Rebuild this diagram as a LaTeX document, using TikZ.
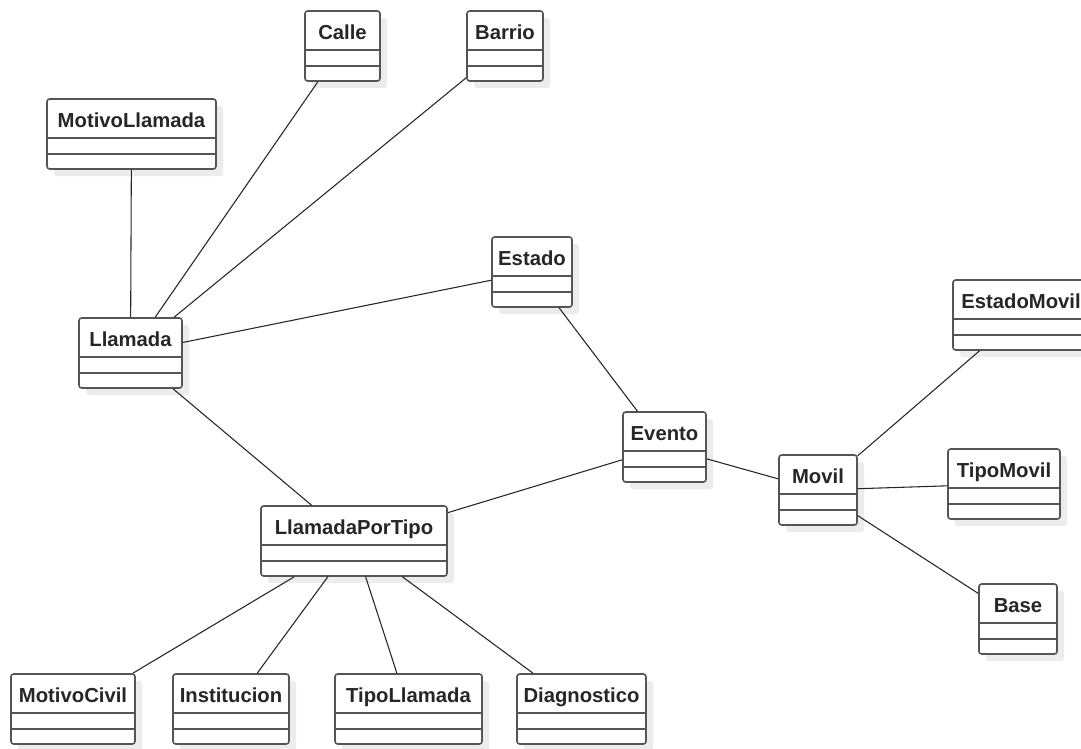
\documentclass[tikz,border=0pt]{standalone}
\usepackage{fontspec}
\setmainfont{Liberation Sans}
\usetikzlibrary{calc}
\definecolor{boxline}{RGB}{85,85,85}
\definecolor{shadowgray}{RGB}{236,236,236}

\begin{document}
\begin{tikzpicture}[x=0.75pt,y=0.75pt,yscale=-1,xscale=1,
  compline/.style={draw=boxline, line width=1.2pt},
  classbox/.style={draw=boxline, line width=1.2pt, fill=white, rounded corners=2pt, inner sep=0pt, minimum height=52.5pt,
    preaction={fill=shadowgray, transform canvas={shift={(7,-7)}}},
    path picture={
      \draw[compline] ($(path picture bounding box.north west)!0.557!(path picture bounding box.south west)$) -- ($(path picture bounding box.north east)!0.557!(path picture bounding box.south east)$);
      \draw[compline] ($(path picture bounding box.north west)!0.786!(path picture bounding box.south west)$) -- ($(path picture bounding box.north east)!0.786!(path picture bounding box.south east)$);
    }},
  classname/.style={anchor=base, inner sep=0pt, font=\fontsize{15.2pt}{17pt}\selectfont\bfseries, text=black!85},
  assoc/.style={draw=black!85, line width=0.8pt}]
\path[use as bounding box, fill=white] (0,0) rectangle (1081,749);

%Shape: Class [Calle]
\node[classbox, minimum width=56.25pt] (calle) at (342.5,46) {};
%Shape: Class [Barrio]
\node[classbox, minimum width=57pt] (barrio) at (505,46) {};
%Shape: Class [MotivoLlamada]
\node[classbox, minimum width=126.75pt] (motivollamada) at (131.5,134) {};
%Shape: Class [Llamada]
\node[classbox, minimum width=77.25pt] (llamada) at (130.5,353) {};
%Shape: Class [Estado]
\node[classbox, minimum width=60pt] (estado) at (532,272) {};
%Shape: Class [Evento]
\node[classbox, minimum width=62.25pt] (evento) at (664.5,447) {};
%Shape: Class [Movil]
\node[classbox, minimum width=58.5pt] (movil) at (818,490) {};
%Shape: Class [EstadoMovil]
\node[classbox, minimum width=102pt] (estadomovil) at (1021,315) {};
%Shape: Class [TipoMovil]
\node[classbox, minimum width=84pt] (tipomovil) at (1004,484) {};
%Shape: Class [Base]
\node[classbox, minimum width=58.5pt] (base) at (1018,619) {};
%Shape: Class [LlamadaPorTipo]
\node[classbox, minimum width=139.5pt] (llamadaportipo) at (354,541) {};
%Shape: Class [MotivoCivil]
\node[classbox, minimum width=93pt] (motivocivil) at (73,709) {};
%Shape: Class [Institucion]
\node[classbox, minimum width=87pt] (institucion) at (231,709) {};
%Shape: Class [TipoLlamada]
\node[classbox, minimum width=110.25pt] (tipollamada) at (408.5,709) {};
%Shape: Class [Diagnostico]
\node[classbox, minimum width=96.75pt] (diagnostico) at (581.5,709) {};

%Straight Lines
\draw[assoc] (llamada) -- (motivollamada);
\draw[assoc] (llamada) -- (calle);
\draw[assoc] (llamada) -- (barrio);
\draw[assoc] (llamada) -- (estado);
\draw[assoc] (llamada) -- (llamadaportipo);
\draw[assoc] (estado) -- (evento);
\draw[assoc] (evento) -- (llamadaportipo);
\draw[assoc] (evento) -- (movil);
\draw[assoc] (movil) -- (estadomovil);
\draw[assoc] (movil) -- (tipomovil);
\draw[assoc] (movil) -- (base);
\draw[assoc] (llamadaportipo) -- (motivocivil);
\draw[assoc] (llamadaportipo) -- (institucion);
\draw[assoc] (llamadaportipo) -- (tipollamada);
\draw[assoc] (llamadaportipo) -- (diagnostico);

% Text Node
\node[classname] (calle-name) at ($(calle.north)!0.414!(calle.south)$) {Calle};
% Text Node
\node[classname] (barrio-name) at ($(barrio.north)!0.414!(barrio.south)$) {Barrio};
% Text Node
\node[classname] (motivollamada-name) at ($(motivollamada.north)!0.414!(motivollamada.south)$) {MotivoLlamada};
% Text Node
\node[classname] (llamada-name) at ($(llamada.north)!0.414!(llamada.south)$) {Llamada};
% Text Node
\node[classname] (estado-name) at ($(estado.north)!0.414!(estado.south)$) {Estado};
% Text Node
\node[classname] (evento-name) at ($(evento.north)!0.414!(evento.south)$) {Evento};
% Text Node
\node[classname] (movil-name) at ($(movil.north)!0.414!(movil.south)$) {Movil};
% Text Node
\node[classname] (estadomovil-name) at ($(estadomovil.north)!0.414!(estadomovil.south)$) {EstadoMovil};
% Text Node
\node[classname] (tipomovil-name) at ($(tipomovil.north)!0.414!(tipomovil.south)$) {TipoMovil};
% Text Node
\node[classname] (base-name) at ($(base.north)!0.414!(base.south)$) {Base};
% Text Node
\node[classname] (llamadaportipo-name) at ($(llamadaportipo.north)!0.414!(llamadaportipo.south)$) {LlamadaPorTipo};
% Text Node
\node[classname] (motivocivil-name) at ($(motivocivil.north)!0.414!(motivocivil.south)$) {MotivoCivil};
% Text Node
\node[classname] (institucion-name) at ($(institucion.north)!0.414!(institucion.south)$) {Institucion};
% Text Node
\node[classname] (tipollamada-name) at ($(tipollamada.north)!0.414!(tipollamada.south)$) {TipoLlamada};
% Text Node
\node[classname] (diagnostico-name) at ($(diagnostico.north)!0.414!(diagnostico.south)$) {Diagnostico};

\end{tikzpicture}
\end{document}
